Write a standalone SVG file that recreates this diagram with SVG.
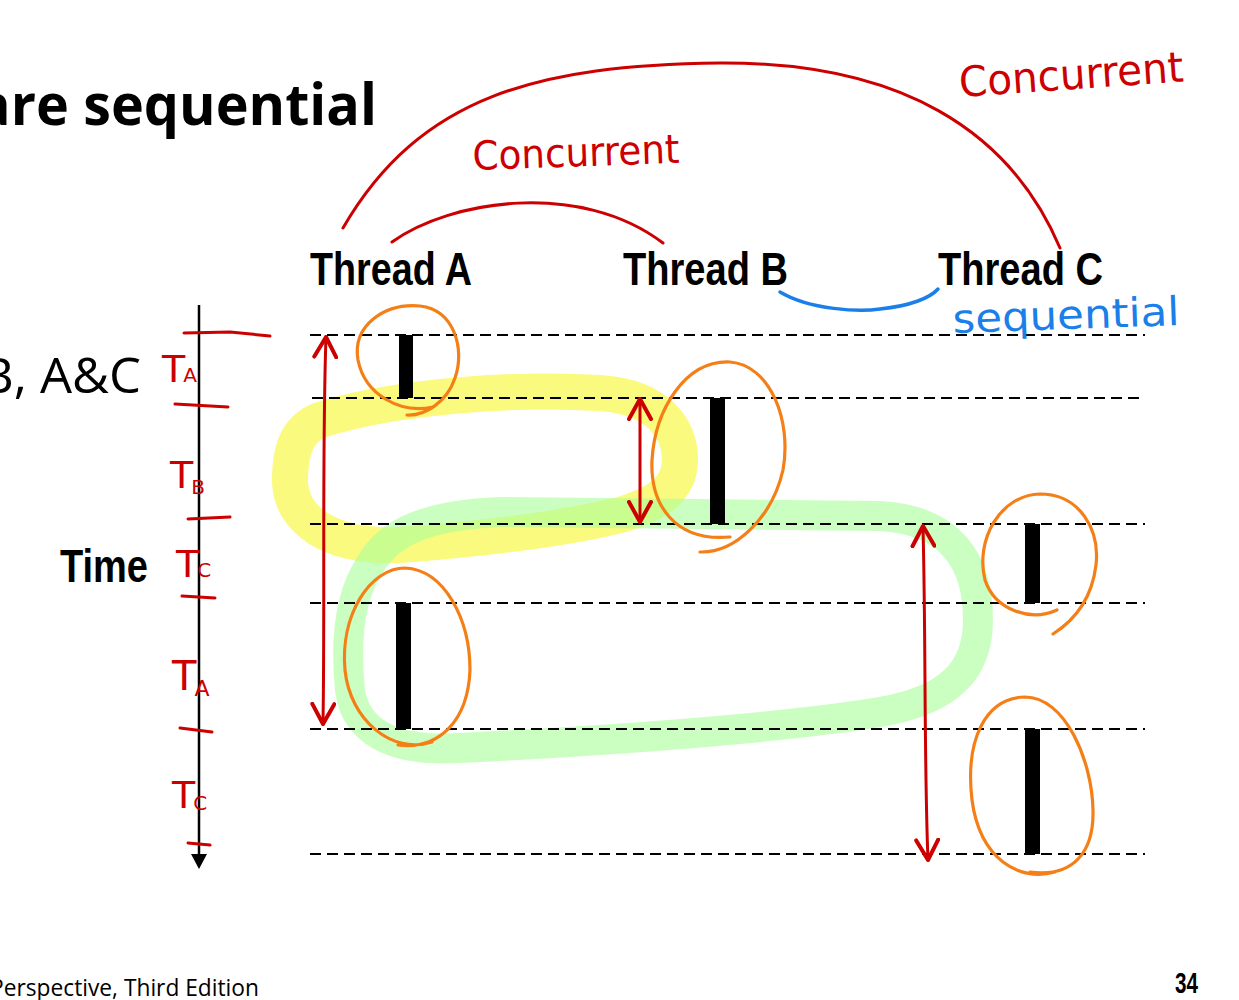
<svg xmlns="http://www.w3.org/2000/svg" width="1239" height="1000" viewBox="0 0 1239 1000">
<style>
.title{font-family:"Open Sans","Liberation Sans",sans-serif;font-weight:bold;fill:#000}
.body{font-family:"Open Sans","Liberation Sans",sans-serif;fill:#000}
.lbl{font-family:"Liberation Sans","Arial",sans-serif;font-weight:bold;fill:#000}
.hw{font-family:"DejaVu Sans","Liberation Sans",sans-serif;fill:#cc0000}
.hwb{font-family:"DejaVu Sans","Liberation Sans",sans-serif;fill:#1a7fe8}
.dash{stroke:#000;stroke-width:2.2;stroke-dasharray:11 6;fill:none}
.bar{fill:#000}
.orange{fill:none;stroke:#f57f17;stroke-width:3.2;stroke-linecap:round;stroke-linejoin:round}
.red{fill:none;stroke:#cc0000;stroke-width:3;stroke-linecap:round;stroke-linejoin:round}
.arrow{fill:none;stroke:#cc0000;stroke-width:3;stroke-linecap:round;marker-start:url(#rh);marker-end:url(#rh)}
</style>
<defs>
<marker id="rh" viewBox="-22 -13 24 26" refX="0" refY="0" markerWidth="24" markerHeight="26" markerUnits="userSpaceOnUse" orient="auto-start-reverse">
<path d="M-20,-11 L0,0 L-20,11" fill="none" stroke="#cc0000" stroke-width="4" stroke-linecap="round" stroke-linejoin="round"/>
</marker>
</defs>
<rect width="1239" height="1000" fill="#fff"/>

<g id="highlights">
<path d="M320,420 C400,395 520,388 600,393 C660,397 680,430 680,460 C680,490 655,505 620,515 C560,530 470,540 400,545 C330,548 290,520 290,480 C290,445 300,428 320,420 Z" fill="none" stroke="#f6f600" stroke-opacity="0.5" stroke-width="36" stroke-linejoin="round"/>
<path d="M370,565 C390,530 430,515 500,512 L880,516 C950,520 978,560 978,620 C978,670 950,700 880,712 C780,728 620,740 460,748 C390,752 355,730 350,690 C345,640 350,595 370,565 Z" fill="none" stroke="#a8ff99" stroke-opacity="0.6" stroke-width="30" stroke-linejoin="round"/>
</g>

<g id="title">
<text class="title" x="-23" y="125" font-size="58" textLength="400" lengthAdjust="spacingAndGlyphs">are sequential</text>
<text class="body" x="-19" y="393" font-size="49" textLength="160" lengthAdjust="spacingAndGlyphs">B, A&amp;C</text>
<text class="body" x="-10" y="996" font-size="24" textLength="269" lengthAdjust="spacingAndGlyphs">Perspective, Third Edition</text>
<text class="lbl" x="1175" y="993" font-size="29" textLength="23" lengthAdjust="spacingAndGlyphs">34</text>
</g>

<g id="time-axis">
<line x1="199" y1="305" x2="199" y2="858" stroke="#000" stroke-width="2.5"/>
<path d="M191,854 L207,854 L199,869 Z" fill="#000"/>
<text class="lbl" x="60" y="582" font-size="47" textLength="88" lengthAdjust="spacingAndGlyphs">Time</text>
</g>

<g id="timelines">
<line class="dash" x1="310" y1="335" x2="1145" y2="335"/>
<line class="dash" x1="312" y1="398" x2="1145" y2="398"/>
<line class="dash" x1="310" y1="524" x2="1145" y2="524"/>
<line class="dash" x1="310" y1="603" x2="1145" y2="603"/>
<line class="dash" x1="310" y1="729" x2="1145" y2="729"/>
<line class="dash" x1="310" y1="854" x2="1145" y2="854"/>
</g>

<g id="thread-a">
<text class="lbl" x="310" y="285" font-size="47" textLength="162" lengthAdjust="spacingAndGlyphs">Thread A</text>
<rect class="bar" x="399" y="335" width="14" height="63"/>
<rect class="bar" x="396" y="603" width="15" height="126"/>
</g>
<g id="thread-b">
<text class="lbl" x="623" y="285" font-size="47" textLength="165" lengthAdjust="spacingAndGlyphs">Thread B</text>
<rect class="bar" x="710" y="398" width="15" height="126"/>
</g>
<g id="thread-c">
<text class="lbl" x="938" y="285" font-size="47" textLength="165" lengthAdjust="spacingAndGlyphs">Thread C</text>
<rect class="bar" x="1025" y="524" width="15" height="79"/>
<rect class="bar" x="1025" y="729" width="15" height="125"/>
</g>

<g id="circles">
<path class="orange" d="M433,407 C400,414 365,395 358,360 C352,325 385,303 420,306 C455,310 465,350 455,378 C447,402 425,416 407,415"/>
<path class="orange" d="M700,552 C735,553 772,518 783,470 C792,420 770,365 730,362 C685,360 655,410 652,460 C650,505 675,542 730,537"/>
<path class="orange" d="M1057,610 C1030,622 995,610 985,580 C975,540 1000,495 1040,494 C1080,494 1100,530 1096,565 C1092,598 1075,620 1053,634"/>
<path class="orange" d="M432,742 C392,755 350,720 345,670 C340,615 370,568 405,568 C445,570 470,620 470,670 C468,720 440,750 398,745"/>
<path class="orange" d="M1055,872 C1020,882 980,860 972,800 C965,740 985,698 1025,697 C1065,697 1092,760 1093,810 C1094,850 1075,878 1030,872"/>
</g>

<g id="time-marks">
<path class="red" d="M184,333 L230,332 L270,336"/>
<path class="red" d="M175,404 L228,407"/>
<path class="red" d="M188,519 L230,517"/>
<path class="red" d="M182,596 L215,598"/>
<path class="red" d="M180,728 L212,732"/>
<path class="red" d="M188,843 L210,845"/>
<text class="hw" x="162" y="382" font-size="38">T<tspan font-size="20" dx="-2">A</tspan></text>
<text class="hw" x="170" y="488" font-size="38">T<tspan font-size="20" dx="-2" dy="6">B</tspan></text>
<text class="hw" x="176" y="577" font-size="38">T<tspan font-size="20" dx="-2">C</tspan></text>
<text class="hw" x="172" y="690" font-size="40">T<tspan font-size="22" dx="-2" dy="6">A</tspan></text>
<text class="hw" x="172" y="808" font-size="38">T<tspan font-size="20" dx="-2" dy="2">C</tspan></text>
</g>

<g id="connectors">
<path class="red" d="M343,228 C420,95 540,65 720,63 C900,62 1010,130 1060,248"/>
<path class="red" d="M392,242 C450,200 580,180 663,243"/>
<path d="M780,292 C810,310 860,312 880,309 C910,306 930,298 938,289" fill="none" stroke="#1a7fe8" stroke-width="3.5" stroke-linecap="round"/>
<path class="arrow" d="M326,337 C322,450 325,600 323,724"/>
<path class="arrow" d="M640,399 L640,522"/>
<path class="arrow" d="M923,526 C926,650 924,760 928,860"/>
</g>

<g id="annotations">
<text class="hw" x="960" y="97" font-size="42" textLength="225" lengthAdjust="spacingAndGlyphs" transform="rotate(-4 960 97)">Concurrent</text>
<text class="hw" x="473" y="170" font-size="40" textLength="207" lengthAdjust="spacingAndGlyphs" transform="rotate(-2 473 170)">Concurrent</text>
<text class="hwb" x="953" y="333" font-size="40" textLength="227" lengthAdjust="spacingAndGlyphs" transform="rotate(-2 953 333)">sequential</text>
</g>
</svg>
